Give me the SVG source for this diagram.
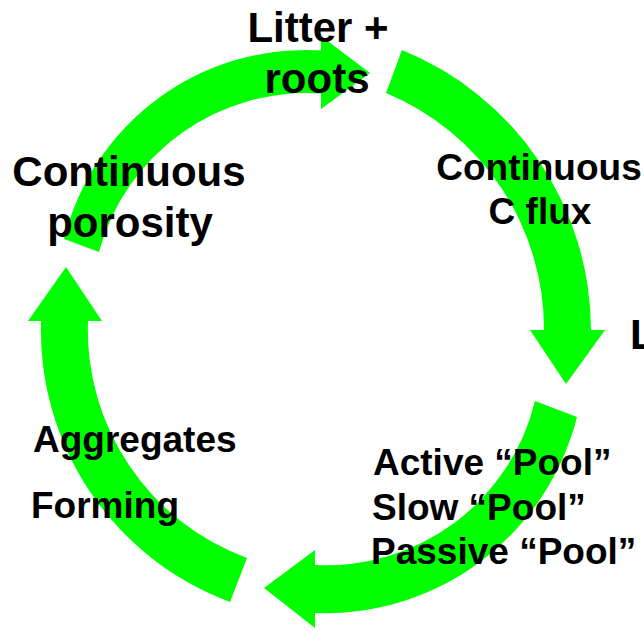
<svg xmlns="http://www.w3.org/2000/svg" width="644" height="631" viewBox="0 0 644 631">
  <style>
    .arrow { fill: #00ff00; stroke: none; }
    .lbl { font-family: "Liberation Sans", Arial, sans-serif; font-weight: bold; fill: #000; }
    .big { font-size: 42px; }
    .mid { font-size: 37px; }
    .c { text-anchor: middle; }
  </style>

  <!-- curved cycle arrows -->
  <g id="connectors">
    <!-- porosity -> litter + roots -->
    <path id="arrow-top" class="arrow" d="M64,239 A249,249 0 0 1 321,50.5 L321,36 L370,73 L321,109 L321,93.5 A215,215 0 0 0 99,252 Z"/>
    <!-- litter + roots -> down the right side -->
    <path id="arrow-right" class="arrow" d="M402,50 A303,303 0 0 1 591,330 L605,330 L566,384 L530,330 L544,330 A256,256 0 0 0 386,93 Z"/>
    <!-- pools -> aggregates -->
    <path id="arrow-bottom" class="arrow" d="M577,417 A260,260 0 0 1 315,613 L315,628 L264,588 L315,550 L315,565 A215,215 0 0 0 535,401 Z"/>
    <!-- aggregates -> porosity -->
    <path id="arrow-left" class="arrow" d="M230,602 A290,290 0 0 1 41,321 L28,321 L66,267 L102,321 L88,321 A243,243 0 0 0 247,558 Z"/>
  </g>

  <g id="litter-roots">
    <text class="lbl big c" x="318" y="42">Litter +</text>
    <text class="lbl big c" x="317" y="93">roots</text>
  </g>

  <g id="continuous-porosity">
    <text class="lbl big c" x="129" y="186">Continuous</text>
    <text class="lbl big c" x="130" y="237">porosity</text>
  </g>

  <g id="continuous-flux">
    <text class="lbl mid c" x="539" y="180">Continuous</text>
    <text class="lbl mid c" x="540" y="224">C flux</text>
  </g>

  <g id="edge-label">
    <text class="lbl big" x="630" y="349">L</text>
  </g>

  <g id="pools">
    <text class="lbl mid" x="373" y="475">Active “Pool”</text>
    <text class="lbl mid" x="372" y="520">Slow “Pool”</text>
    <text class="lbl mid" x="371" y="564">Passive “Pool”</text>
  </g>

  <g id="aggregates">
    <text class="lbl mid" x="33" y="452">Aggregates</text>
    <text class="lbl mid" x="31" y="518">Forming</text>
  </g>
</svg>
